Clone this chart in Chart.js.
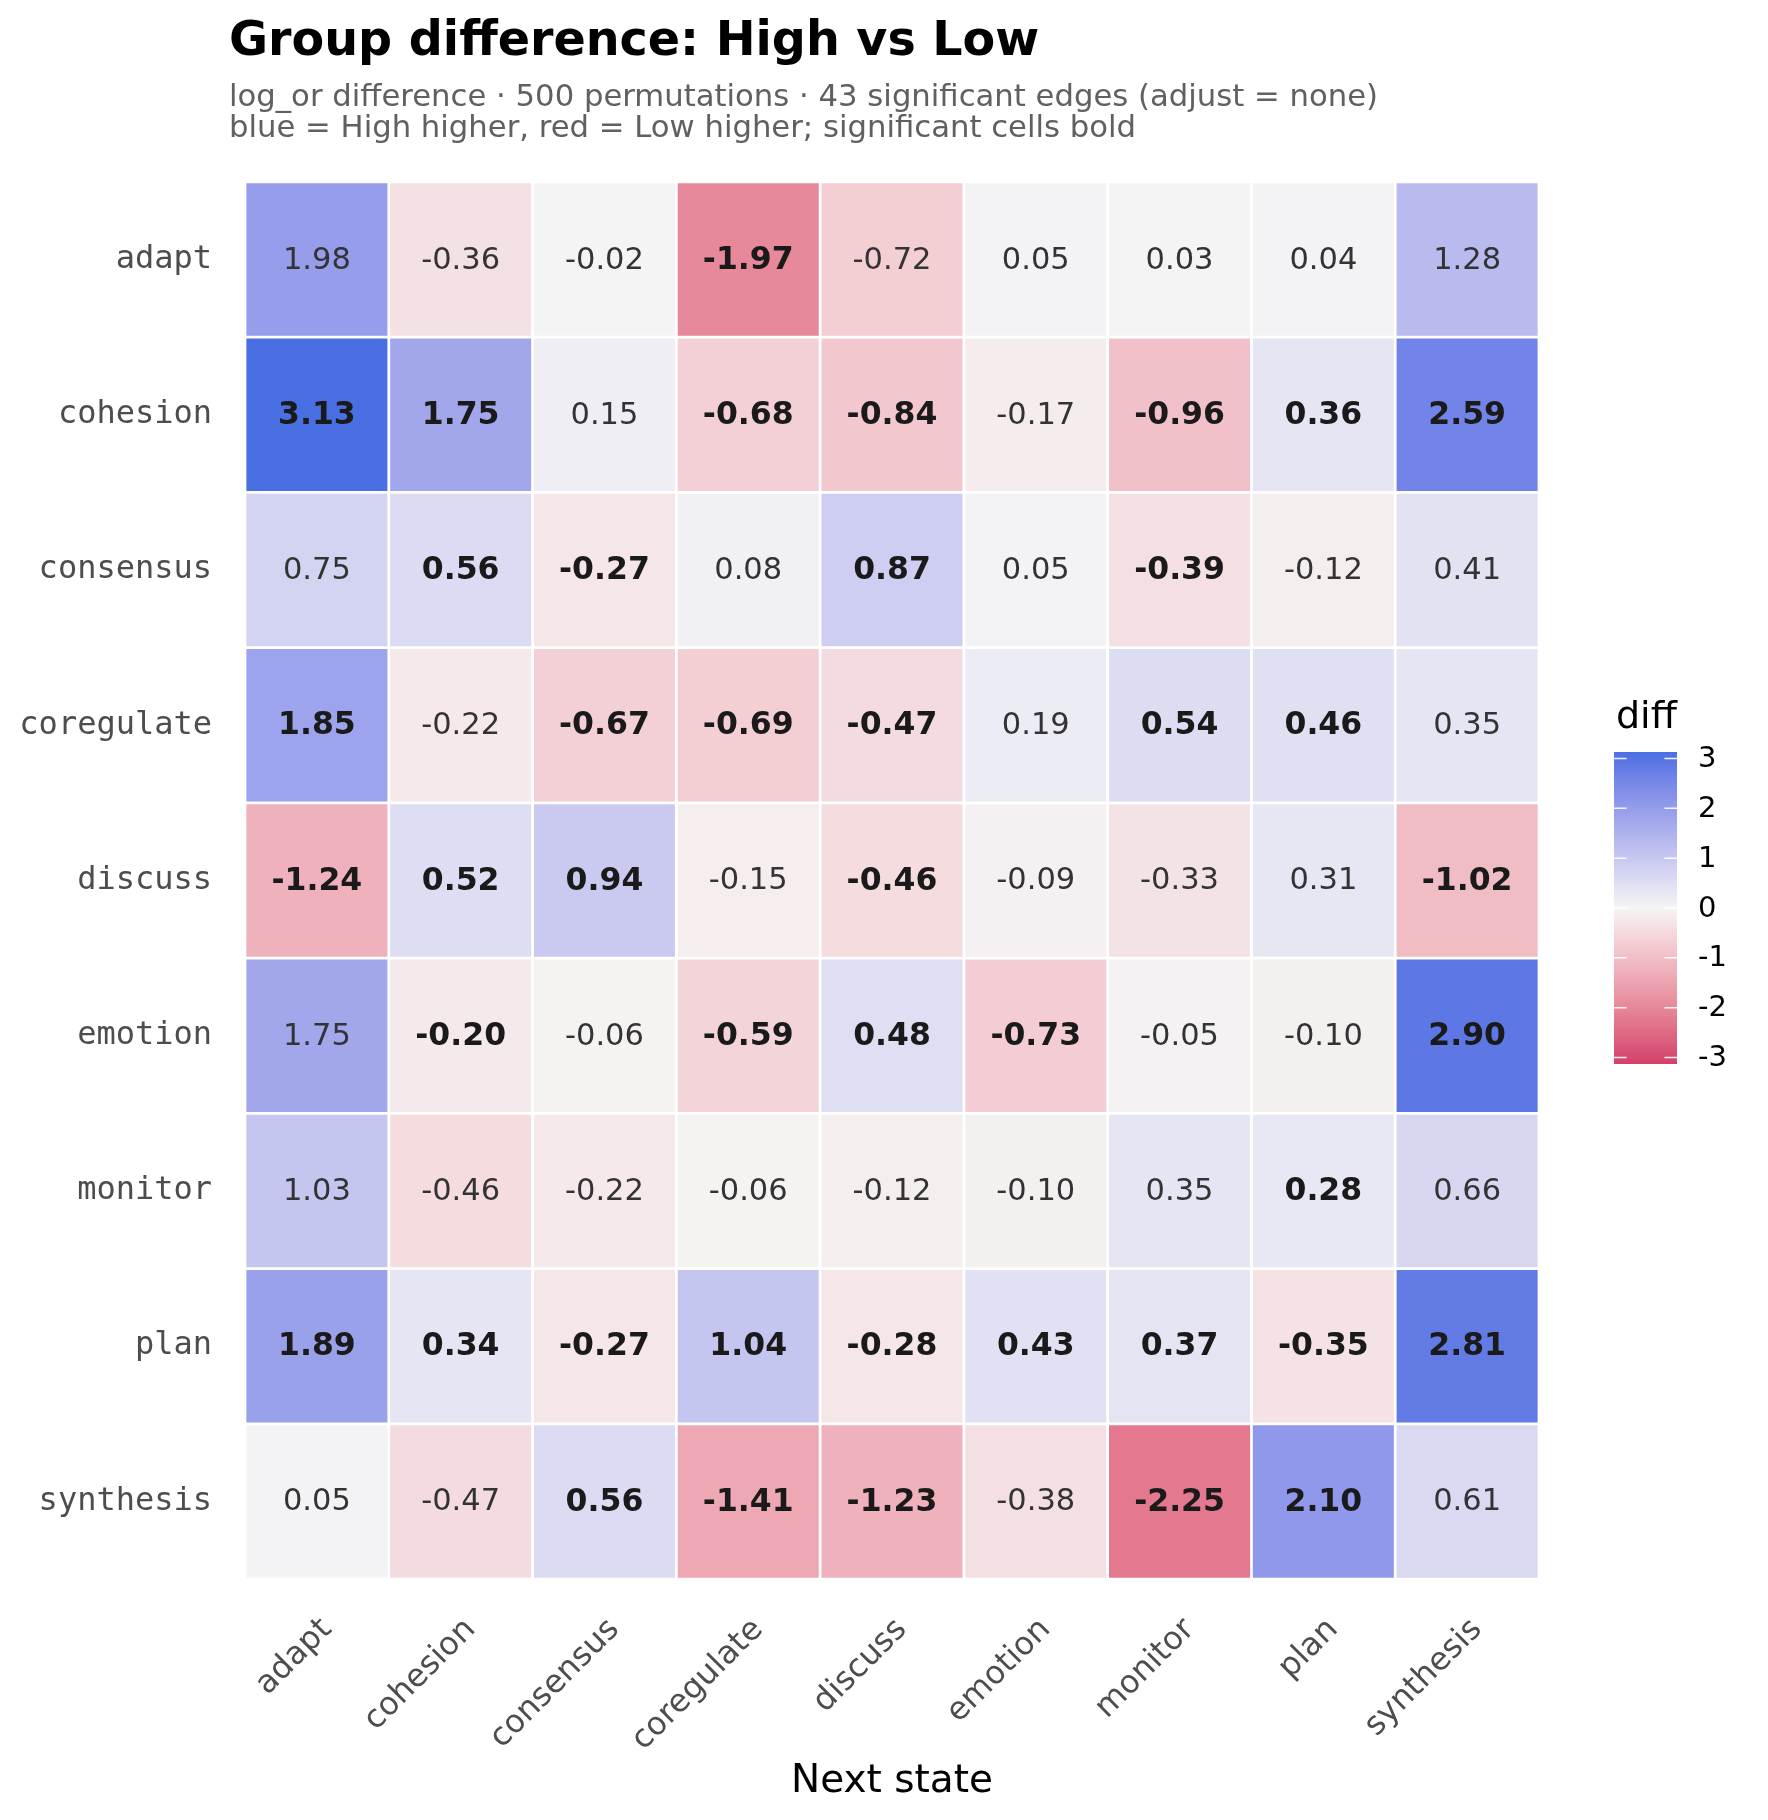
<!DOCTYPE html>
<html lang="en">
<head>
  <meta charset="UTF-8" />
  <title>Group difference: High vs Low</title>
  <script src="https://cdn.jsdelivr.net/npm/chart.js"></script>
  <style>
    body {
      margin: 0;
      padding: 0;
      background: #ffffff;
      overflow: hidden;
    }
    #heatmap {
      display: block;
    }
  </style>
</head>
<body>
  <canvas id="heatmap" width="1768" height="1820"></canvas>

  <script>
    // states (rows = from, columns = next state)
    const states = ['adapt', 'cohesion', 'consensus', 'coregulate', 'discuss', 'emotion', 'monitor', 'plan', 'synthesis'];

    // log_or difference High - Low, one array per row
    const diffValues = [
      [1.98, -0.36, -0.02, -1.97, -0.72, 0.05, 0.03, 0.04, 1.28],
      [3.13, 1.75, 0.15, -0.68, -0.84, -0.17, -0.96, 0.36, 2.59],
      [0.75, 0.56, -0.27, 0.08, 0.87, 0.05, -0.39, -0.12, 0.41],
      [1.85, -0.22, -0.67, -0.69, -0.47, 0.19, 0.54, 0.46, 0.35],
      [-1.24, 0.52, 0.94, -0.15, -0.46, -0.09, -0.33, 0.31, -1.02],
      [1.75, -0.20, -0.06, -0.59, 0.48, -0.73, -0.05, -0.10, 2.90],
      [1.03, -0.46, -0.22, -0.06, -0.12, -0.10, 0.35, 0.28, 0.66],
      [1.89, 0.34, -0.27, 1.04, -0.28, 0.43, 0.37, -0.35, 2.81],
      [0.05, -0.47, 0.56, -1.41, -1.23, -0.38, -2.25, 2.10, 0.61]
    ];

    // 1 = significant (bold)
    const significant = [
      [0, 0, 0, 1, 0, 0, 0, 0, 0],
      [1, 1, 0, 1, 1, 0, 1, 1, 1],
      [0, 1, 1, 0, 1, 0, 1, 0, 0],
      [1, 0, 1, 1, 1, 0, 1, 1, 0],
      [1, 1, 1, 0, 1, 0, 0, 0, 1],
      [0, 1, 0, 1, 1, 1, 0, 0, 1],
      [0, 0, 0, 0, 0, 0, 0, 1, 0],
      [1, 1, 1, 1, 1, 1, 1, 1, 1],
      [0, 0, 1, 1, 1, 0, 1, 1, 0]
    ];

    const legendTicks = [3, 2, 1, 0, -1, -2, -3];

    const lowColor = '#D33F6A';
    const midColor = '#F5F5F5';
    const highColor = '#4A6FE3';

    const N = states.length;
    const limit = Math.max(...diffValues.flat().map(Math.abs));

    // --- Lab colour interpolation (like ggplot's gradient2) ---
    const WHITE = [0.95047, 1, 1.08883];
    function hexToRgb(h) {
      return [1, 3, 5].map(i => parseInt(h.slice(i, i + 2), 16));
    }
    function toLinear(c) {
      c /= 255;
      return c <= 0.04045 ? c / 12.92 : Math.pow((c + 0.055) / 1.055, 2.4);
    }
    function fromLinear(c) {
      const v = c <= 0.0031308 ? 12.92 * c : 1.055 * Math.pow(c, 1 / 2.4) - 0.055;
      return Math.round(Math.min(1, Math.max(0, v)) * 255);
    }
    function rgbToLab(rgb) {
      const [r, g, b] = rgb.map(toLinear);
      const x = (0.4124564 * r + 0.3575761 * g + 0.1804375 * b) / WHITE[0];
      const y = 0.2126729 * r + 0.7151522 * g + 0.0721750 * b;
      const z = (0.0193339 * r + 0.1191920 * g + 0.9503041 * b) / WHITE[2];
      const f = t => t > 216 / 24389 ? Math.cbrt(t) : (24389 / 27 * t + 16) / 116;
      const fx = f(x), fy = f(y), fz = f(z);
      return [116 * fy - 16, 500 * (fx - fy), 200 * (fy - fz)];
    }
    function labToRgb(lab) {
      const [L, a, b] = lab;
      const fy = (L + 16) / 116, fx = fy + a / 500, fz = fy - b / 200;
      const finv = t => t * t * t > 216 / 24389 ? t * t * t : (116 * t - 16) / (24389 / 27);
      const x = finv(fx) * WHITE[0], y = finv(fy), z = finv(fz) * WHITE[2];
      const r = 3.2404542 * x - 1.5371385 * y - 0.4985314 * z;
      const g = -0.9692660 * x + 1.8760108 * y + 0.0415560 * z;
      const bb = 0.0556434 * x - 0.2040259 * y + 1.0572252 * z;
      return [r, g, bb].map(fromLinear);
    }
    const labLow = rgbToLab(hexToRgb(lowColor));
    const labMid = rgbToLab(hexToRgb(midColor));
    const labHigh = rgbToLab(hexToRgb(highColor));

    function fillFor(v) {
      const t = Math.max(-1, Math.min(1, v / limit));
      const end = t >= 0 ? labHigh : labLow;
      const k = Math.abs(t);
      const lab = labMid.map((m, i) => m + (end[i] - m) * k);
      const rgb = labToRgb(lab);
      return 'rgb(' + rgb.join(',') + ')';
    }

    // one dataset per row, each cell a floating bar [row, row + 1]
    const datasets = states.map((rowName, r) => ({
      label: rowName,
      data: states.map(() => [N - 1 - r, N - r]),
      backgroundColor: diffValues[r].map(fillFor),
      borderColor: '#ffffff',
      borderWidth: 1.7,
      borderSkipped: false,
      barPercentage: 1,
      categoryPercentage: 1,
      grouped: false
    }));

    const cellText = {
      id: 'cellText',
      afterDatasetsDraw(chart) {
        const ctx = chart.ctx;
        ctx.save();
        ctx.textAlign = 'center';
        ctx.textBaseline = 'middle';
        datasets.forEach((ds, r) => {
          chart.getDatasetMeta(r).data.forEach((bar, c) => {
            const bold = significant[r][c] === 1;
            ctx.font = bold ? 'bold 31.5px "DejaVu Sans"' : '30.5px "DejaVu Sans"';
            ctx.fillStyle = bold ? '#1a1a1a' : '#333333';
            ctx.fillText(diffValues[r][c].toFixed(2), bar.x, (bar.y + bar.base) / 2 + 1);
          });
        });
        ctx.restore();
      }
    };

    const decor = {
      id: 'decor',
      afterDraw(chart) {
        const ctx = chart.ctx;
        const area = chart.chartArea;
        ctx.save();

        // title + subtitle
        ctx.textAlign = 'left';
        ctx.textBaseline = 'alphabetic';
        ctx.fillStyle = '#000000';
        ctx.font = 'bold 47.6px "DejaVu Sans"';
        ctx.fillText('Group difference: High vs Low', 229, 55);
        ctx.fillStyle = '#606060';
        ctx.font = '30.7px "DejaVu Sans"';
        ctx.fillText('log_or difference · 500 permutations · 43 significant edges (adjust = none)', 229, 106);
        ctx.fillText('blue = High higher, red = Low higher; significant cells bold', 229, 137);

        // x axis title
        ctx.textAlign = 'center';
        ctx.fillStyle = '#000000';
        ctx.font = '39px "DejaVu Sans"';
        ctx.fillText('Next state', (area.left + area.right) / 2, 1792);

        // colour bar
        const barX = area.right + 75;
        const barW = 63;
        const mid = (area.top + area.bottom) / 2 + 27.5;
        const barTop = mid - 156;
        const barBottom = mid + 156;
        const yFor = v => barTop + (limit - v) / (2 * limit) * (barBottom - barTop);

        const grad = ctx.createLinearGradient(0, barTop, 0, barBottom);
        for (let i = 0; i <= 60; i++) {
          const v = limit - (2 * limit) * i / 60;
          grad.addColorStop(i / 60, fillFor(v));
        }
        ctx.fillStyle = grad;
        ctx.fillRect(barX, barTop, barW, barBottom - barTop);

        ctx.strokeStyle = 'rgba(255,255,255,0.9)';
        ctx.lineWidth = 1.5;
        ctx.textAlign = 'left';
        ctx.textBaseline = 'middle';
        ctx.font = '29px "DejaVu Sans"';
        ctx.fillStyle = '#000000';
        legendTicks.forEach(t => {
          const y = yFor(t);
          ctx.beginPath();
          ctx.moveTo(barX, y);
          ctx.lineTo(barX + 12.6, y);
          ctx.moveTo(barX + barW - 12.6, y);
          ctx.lineTo(barX + barW, y);
          ctx.stroke();
          ctx.fillText(String(t), barX + 84, y + 1);
        });

        ctx.textBaseline = 'alphabetic';
        ctx.font = '38px "DejaVu Sans"';
        ctx.fillText('diff', barX + 2, barTop - 24);

        ctx.restore();
      }
    };

    new Chart(document.getElementById('heatmap').getContext('2d'), {
      type: 'bar',
      data: { labels: states, datasets: datasets },
      options: {
        responsive: false,
        devicePixelRatio: 1,
        animation: false,
        layout: { padding: { top: 182, right: 229, bottom: 0, left: 0 } },
        plugins: {
          legend: { display: false },
          tooltip: { enabled: false },
          title: { display: false }
        },
        scales: {
          x: {
            type: 'category',
            grid: { display: false, drawTicks: false },
            border: { display: false },
            ticks: {
              autoSkip: false,
              minRotation: 45,
              maxRotation: 45,
              padding: 32,
              labelOffset: 10,
              color: '#4d4d4d',
              font: { family: 'DejaVu Sans', size: 32 }
            },
            afterFit: s => { s.height = 241; }
          },
          y: {
            type: 'linear',
            min: 0,
            max: N,
            grid: { display: false, drawTicks: false },
            border: { display: false },
            afterBuildTicks: s => {
              s.ticks = states.map((_, r) => ({ value: N - r - 0.5 }));
            },
            ticks: {
              padding: 33,
              color: '#4d4d4d',
              font: { family: 'DejaVu Sans Mono', size: 32 },
              callback: v => states[Math.round(N - 0.5 - v)]
            },
            afterFit: s => { s.width = 245; }
          }
        }
      },
      plugins: [cellText, decor]
    });
  </script>
</body>
</html>
